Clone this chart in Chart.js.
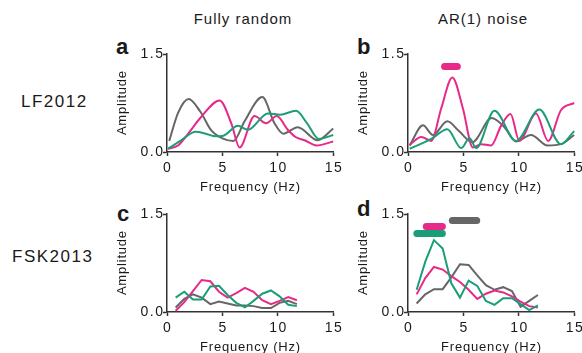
<!DOCTYPE html>
<html>
<head>
<meta charset="utf-8">
<script src="https://cdn.jsdelivr.net/npm/chart.js@4.4.1/dist/chart.umd.min.js"></script>
<style>
body { margin: 0; width: 582px; height: 353px; overflow: hidden; background: #fff; position: relative;
       font-family: "Liberation Sans", Arial, sans-serif; color: #1a1a1a; }
canvas { position: absolute; }
.lbl { position: absolute; white-space: nowrap; line-height: 1; }
.col { font-size: 15px; letter-spacing: 1px; width: 200px; text-align: center; }
.row { font-size: 17px; letter-spacing: 1.5px; }
.pl { font-size: 22px; font-weight: bold; }
</style>
</head>
<body>
<div class="lbl col" style="left:143px; top:11px;">Fully random</div>
<div class="lbl col" style="left:383px; top:11px;">AR(1) noise</div>
<div class="lbl row" style="left:21px; top:93px;">LF2012</div>
<div class="lbl row" style="left:12px; top:248px;">FSK2013</div>
<div class="lbl pl" style="left:116px; top:36px;">a</div>
<div class="lbl pl" style="left:357px; top:36px;">b</div>
<div class="lbl pl" style="left:117px; top:203px;">c</div>
<div class="lbl pl" style="left:357px; top:198px;">d</div>

<canvas id="pa" width="245" height="155" style="left:100px; top:40px;"></canvas>
<canvas id="pb" width="245" height="155" style="left:341px; top:40px;"></canvas>
<canvas id="pc" width="245" height="155" style="left:100px; top:200px;"></canvas>
<canvas id="pd" width="245" height="155" style="left:341px; top:200px;"></canvas>

<script>
// a: fully random, LF2012 (smooth spectra)
var aGreyHz = [0.2, 1.0, 1.95, 3.0, 4.0, 5.0, 6.0, 7.0, 8.6, 9.7, 10.5, 11.8, 13.6, 15];
var aGreyAmp = [0.17, 0.6, 0.81, 0.62, 0.33, 0.21, 0.17, 0.47, 0.84, 0.44, 0.28, 0.38, 0.18, 0.36];
var aPinkHz = [0.1, 1.0, 2.0, 3.0, 4.75, 5.8, 6.55, 7.9, 8.95, 9.9, 10.9, 11.6, 12.4, 13.5, 15];
var aPinkAmp = [0.05, 0.1, 0.3, 0.52, 0.79, 0.44, 0.07, 0.55, 0.44, 0.55, 0.34, 0.23, 0.18, 0.1, 0.16];
var aGreenHz = [0.1, 1.2, 2.6, 3.5, 4.4, 5.1, 6.4, 7.3, 9.1, 10.2, 11.65, 12.6, 13.7, 15];
var aGreenAmp = [0.05, 0.17, 0.31, 0.28, 0.24, 0.25, 0.4, 0.34, 0.59, 0.57, 0.63, 0.45, 0.2, 0.26];

// b: AR(1) noise, LF2012
var bGreyHz = [0.15, 1.35, 2.25, 3.55, 4.6, 5.8, 7.55, 8.7, 9.75, 11.1, 12.6, 13.8, 15];
var bGreyAmp = [0.1, 0.41, 0.26, 0.47, 0.32, 0.15, 0.52, 0.38, 0.16, 0.26, 0.1, 0.12, 0.26];
var bPinkHz = [0.15, 1.2, 2.1, 3.0, 4.0, 4.95, 5.85, 6.6, 7.5, 8.4, 9.25, 10.05, 11.55, 12.65, 13.8, 15];
var bPinkAmp = [0.11, 0.23, 0.17, 0.67, 1.14, 0.67, 0.07, 0.12, 0.1, 0.4, 0.58, 0.17, 0.59, 0.17, 0.64, 0.75];
var bGreenHz = [0.15, 2.1, 3.55, 4.8, 5.55, 6.15, 7.8, 9.75, 11.85, 13.8, 15];
var bGreenAmp = [0.05, 0.2, 0.35, 0.06, 0.21, 0.06, 0.63, 0.17, 0.65, 0.12, 0.32];
var bPinkBar = [3.3, 4.45], bPinkBarAmp = 1.31;

// c, d: FSK2013 (binned spectra)
var binHz = [0.78, 1.56, 2.34, 3.13, 3.91, 4.69, 5.47, 6.25, 7.03, 7.81, 8.59, 9.38, 10.16, 10.94, 11.72];
var cGrey = [0.07, 0.2, 0.27, 0.22, 0.12, 0.16, 0.13, 0.1, 0.1, 0.09, 0.06, 0.06, 0.14, 0.17, 0.12];
var cPink = [0.02, 0.15, 0.32, 0.49, 0.47, 0.31, 0.22, 0.29, 0.37, 0.31, 0.18, 0.12, 0.17, 0.23, 0.18];
var cGreen = [0.22, 0.31, 0.19, 0.19, 0.39, 0.4, 0.26, 0.14, 0.07, 0.17, 0.28, 0.33, 0.24, 0.11, 0.09];
var dGrey = [0.13, 0.27, 0.35, 0.35, 0.53, 0.73, 0.72, 0.56, 0.41, 0.34, 0.38, 0.32, 0.08, 0.17, 0.26];
var dPink = [0.27, 0.52, 0.69, 0.65, 0.55, 0.46, 0.34, 0.2, 0.28, 0.33, 0.3, 0.24, 0.16, 0.09, 0.07];
var dGreen = [0.34, 0.77, 1.1, 0.97, 0.44, 0.22, 0.48, 0.4, 0.17, 0.11, 0.21, 0.21, 0.12, 0.03, 0.1];
var dGreyBar = [4.0, 6.2], dGreyBarAmp = 1.4;
var dPinkBar = [1.65, 3.1], dPinkBarAmp = 1.31;
var dGreenBar = [0.8, 3.1], dGreenBarAmp = 1.2;

var xTicks = [0, 5, 10, 15];
var yTicks = [0, 1.5];

var grey = '#666666', pink = '#e7298a', green = '#1b9e77';
var axisCol = '#333333', textCol = '#1a1a1a';
var fam = '"Liberation Sans", Arial, sans-serif';

// the figure's text is slightly tracked out
var fill = CanvasRenderingContext2D.prototype.fillText;
CanvasRenderingContext2D.prototype.fillText = function(t, x, y) {
    var sp = this.font.indexOf('14px') >= 0 ? 1.5 : 0.8;
    this.letterSpacing = sp + 'px';
    if (this.textAlign === 'center') x += sp / 2;
    if (this.textAlign === 'right') x += sp;
    fill.call(this, t, x, y);
};

function pts(xs, ys) {
    return xs.map(function(x, i) { return {x: x, y: ys[i]}; });
}

function line(xs, ys, color, smooth) {
    return {
        data: pts(xs, ys),
        borderColor: color,
        borderWidth: 2,
        pointRadius: 0,
        cubicInterpolationMode: smooth ? 'monotone' : 'default',
        tension: 0,
        clip: 8
    };
}

function bar(range, amp, color) {
    return {
        data: pts(range, [amp, amp]),
        borderColor: color,
        borderWidth: 7,
        borderCapStyle: 'round',
        pointRadius: 0,
        clip: 8
    };
}

function panel(id, datasets) {
    new Chart(document.getElementById(id), {
        type: 'line',
        data: {datasets: datasets},
        options: {
            responsive: false,
            animation: false,
            events: [],
            layout: {padding: {top: 14, right: 11, left: 0, bottom: 0}},
            plugins: {legend: {display: false}, tooltip: {enabled: false}},
            scales: {
                x: {
                    type: 'linear', min: 0, max: 15,
                    afterBuildTicks: function(s) { s.ticks = xTicks.map(function(v) { return {value: v}; }); },
                    ticks: {padding: 4, color: textCol, font: {family: fam, size: 14}, maxRotation: 0},
                    grid: {drawOnChartArea: false, tickLength: 4, tickColor: axisCol, tickWidth: 1.5},
                    border: {color: axisCol, width: 1.5},
                    title: {display: true, text: 'Frequency (Hz)', color: textCol,
                            font: {family: fam, size: 13}, padding: {top: 1, bottom: 0}},
                    afterFit: function(s) { s.height = 43; }
                },
                y: {
                    min: 0, max: 1.5,
                    afterBuildTicks: function(s) { s.ticks = yTicks.map(function(v) { return {value: v}; }); },
                    ticks: {padding: 0, color: textCol, font: {family: fam, size: 14},
                            callback: function(v) { return v.toFixed(1); }},
                    grid: {drawOnChartArea: false, tickLength: 4, tickColor: axisCol, tickWidth: 1.5},
                    border: {color: axisCol, width: 1.5},
                    title: {display: true, text: 'Amplitude', color: textCol,
                            font: {family: fam, size: 13}, padding: {top: 15, bottom: 0}},
                    afterFit: function(s) { s.width = 67; }
                }
            }
        }
    });
}

panel('pa', [
    line(aGreenHz, aGreenAmp, green, true),
    line(aPinkHz, aPinkAmp, pink, true),
    line(aGreyHz, aGreyAmp, grey, true)
]);
panel('pb', [
    line(bGreenHz, bGreenAmp, green, true),
    line(bPinkHz, bPinkAmp, pink, true),
    line(bGreyHz, bGreyAmp, grey, true),
    bar(bPinkBar, bPinkBarAmp, pink)
]);
panel('pc', [
    line(binHz, cGreen, green, false),
    line(binHz, cPink, pink, false),
    line(binHz, cGrey, grey, false)
]);
panel('pd', [
    line(binHz, dGreen, green, false),
    line(binHz, dPink, pink, false),
    line(binHz, dGrey, grey, false),
    bar(dGreyBar, dGreyBarAmp, grey),
    bar(dPinkBar, dPinkBarAmp, pink),
    bar(dGreenBar, dGreenBarAmp, green)
]);
</script>
</body>
</html>
